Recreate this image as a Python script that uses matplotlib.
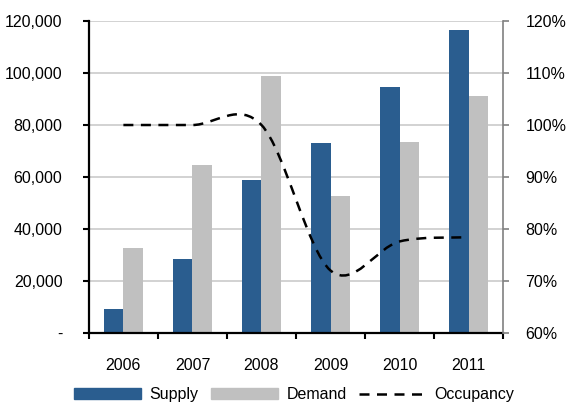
import numpy as np
import matplotlib
matplotlib.use("Agg")
from matplotlib import pyplot as plt
from matplotlib.path import Path
from matplotlib.patches import PathPatch, Patch
from matplotlib.lines import Line2D
from matplotlib.ticker import FuncFormatter, MultipleLocator, FixedLocator

years = ['2006', '2007', '2008', '2009', '2010', '2011']
supply = [9200, 28600, 58700, 73000, 94500, 116500]
demand = [32800, 64700, 99000, 52500, 73300, 91300]
occupancy = [100.0, 100.0, 100.0, 72.0, 77.6, 78.4]

supply_color = '#2A5D8F'
demand_color = '#C0C0C0'
dash = (0, (4.0, 3.0))

plt.rcParams['font.family'] = ['Liberation Sans', 'DejaVu Sans']
plt.rcParams['font.size'] = 11.5

fig = plt.figure(figsize=(5.66, 4.05), dpi=100)
ax = fig.add_axes([0.157, 0.178, 0.732, 0.770])
ax2 = ax.twinx()

x = np.arange(len(years))
w = 0.285
ax.bar(x - w / 2, supply, w, color=supply_color, zorder=2)
ax.bar(x + w / 2, demand, w, color=demand_color, zorder=2)

ax.set_xlim(-0.5, len(years) - 0.5)
ax.set_ylim(0, 120000)
ax.yaxis.set_major_locator(MultipleLocator(20000))
ax.yaxis.set_major_formatter(FuncFormatter(lambda v, p: '-' if v == 0 else '{:,.0f}'.format(v)))
ax.grid(axis='y', color='#CFCFCF', lw=1.3, zorder=0)
ax.set_axisbelow(True)

# category labels in the middle, tick marks on the boundaries
ax.set_xticks(x)
ax.set_xticklabels(years)
ax.xaxis.set_minor_locator(FixedLocator(np.arange(-0.5, len(years), 1.0)))
ax.tick_params(axis='x', which='major', length=0, pad=18)
ax.tick_params(axis='x', which='minor', length=4, width=1.5, color='black', direction='out')
ax.tick_params(axis='y', length=4, width=1.5, pad=15, colors='black')

for s in ['top', 'right']:
    ax.spines[s].set_visible(False)
ax.spines['left'].set_linewidth(1.6)
ax.spines['bottom'].set_linewidth(1.6)

ax2.set_ylim(60, 120)
ax2.yaxis.set_major_locator(MultipleLocator(10))
ax2.yaxis.set_major_formatter(FuncFormatter(lambda v, p: '{:.0f}%'.format(v)))
ax2.tick_params(axis='y', length=4, width=1.2, color='#808080', labelcolor='black', pad=12)
for s in ['top', 'left', 'bottom']:
    ax2.spines[s].set_visible(False)
ax2.spines['right'].set_color('#808080')
ax2.spines['right'].set_linewidth(1.2)

# smoothed occupancy line: cubic bezier segments through each point
pts = np.column_stack([x, occupancy]).astype(float)
ext = np.vstack([pts[0], pts, pts[-1]])
verts = [tuple(pts[0])]
codes = [Path.MOVETO]
for i in range(len(pts) - 1):
    p0, p1, p2, p3 = ext[i], ext[i + 1], ext[i + 2], ext[i + 3]
    c1 = p1 + (p2 - p0) / 6.0
    c2 = p2 - (p3 - p1) / 6.0
    verts += [tuple(c1), tuple(c2), tuple(p2)]
    codes += [Path.CURVE4] * 3
ax2.add_patch(PathPatch(Path(verts, codes), fill=False, ec='black', lw=1.8, ls=dash, zorder=3))

handles = [Patch(color=supply_color), Patch(color=demand_color),
           Line2D([], [], color='black', lw=1.8, ls=dash)]
fig.legend(handles, ['Supply', 'Demand', 'Occupancy'], loc='center', bbox_to_anchor=(0.52, 0.025),
           ncol=3, frameon=False, handlelength=4.2, handletextpad=0.5, columnspacing=0.8)

plt.savefig('out.png', dpi=100)
